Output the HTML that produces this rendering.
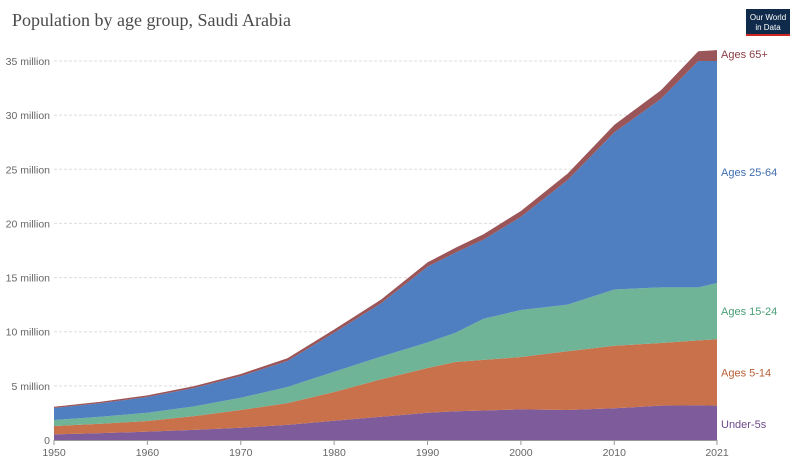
<!DOCTYPE html>
<html><head><meta charset="utf-8"><style>
body{margin:0;background:#fff;font-family:"Liberation Sans",sans-serif}
</style></head><body>
<svg width="800" height="466" xmlns="http://www.w3.org/2000/svg">
<rect width="800" height="466" fill="#fff"/>
<text x="12" y="26" font-family="Liberation Serif,serif" font-size="18" fill="#4a4a4a">Population by age group, Saudi Arabia</text>
<g>
<rect x="746" y="9" width="44" height="27" fill="#0f2a4a"/>
<rect x="746" y="34" width="44" height="2" fill="#ce261e"/>
<text x="768" y="20" font-size="8" fill="#fff" text-anchor="middle">Our World</text>
<text x="768" y="30" font-size="8" fill="#fff" text-anchor="middle">in Data</text>
</g>
<g id="grid"></g><g id="areas"></g><g id="axes"></g><g id="labels"></g>
</svg>
<script>
const years=[1950,1955,1960,1965,1970,1975,1980,1985,1990,1993,1996,2000,2005,2010,2015,2019,2021];
const under5=[.52,.63,.77,.93,1.13,1.4,1.78,2.15,2.52,2.65,2.72,2.83,2.77,2.93,3.17,3.2,3.17];
const ages5to14=[.77,.87,.98,1.27,1.64,2.0,2.65,3.45,4.13,4.55,4.68,4.83,5.43,5.77,5.79,6.0,6.13];
const ages15to24=[.56,.65,.77,.9,1.13,1.5,1.87,2.1,2.35,2.7,3.8,4.34,4.3,5.2,5.14,4.9,5.2];
const ages25to64=[1.1,1.25,1.45,1.7,2.0,2.4,3.6,4.9,7.0,7.4,7.3,8.6,11.5,14.5,17.4,20.9,20.5];
const ages65=[.12,.13,.15,.17,.2,.25,.3,.35,.4,.45,.5,.55,.6,.7,.8,.9,1.0];
const yTicks=[0,5,10,15,20,25,30,35];
const xTicks=[1950,1960,1970,1980,1990,2000,2010,2021];
const seriesNames=["Under-5s","Ages 5-14","Ages 15-24","Ages 25-64","Ages 65+"];
const NS="http://www.w3.org/2000/svg";
const X=y=>54+(y-1950)*(717-54)/71;
const Y=v=>440-v*(440-61)/35;
function mk(t,a,p){const e=document.createElementNS(NS,t);for(const k in a)e.setAttribute(k,a[k]);document.getElementById(p).appendChild(e);return e;}
yTicks.forEach(t=>{
  if(t>0){const l=mk('line',{x1:54,x2:717,y1:Y(t),y2:Y(t),stroke:'#ddd','stroke-dasharray':'3,2'},'grid');
  
  }
  const tx=mk('text',{x:50,y:Y(t)+4,'font-size':10.5,fill:'#666','text-anchor':'end'},'axes');
  tx.textContent=t===0?'0':t+' million';
  
  
});
const ax=mk('line',{x1:54,x2:717,y1:440.5,y2:440.5,stroke:'#999'},'axes');


xTicks.forEach(t=>{
  const tk=mk('line',{x1:X(t),x2:X(t),y1:440,y2:445,stroke:'#999'},'axes');
  
  
  const tx=mk('text',{x:X(t),y:456,'font-size':10.5,fill:'#666','text-anchor':'middle'},'axes');
  tx.textContent=t;
  
  
});
const series=[under5,ages5to14,ages15to24,ages25to64,ages65];
const colors=['#7e5b9a','#c8714b','#6fb497','#4f7fc1','#9a5559'];
const lcolors=['#6d4a8c','#b85f36','#4a9c78','#3f6db0','#8a3e45'];
const names=['area-under-5s','area-ages-5-14','area-ages-15-24','area-ages-25-64','area-ages-65-plus'];
let base=years.map(()=>0);
series.forEach((s,i)=>{
  const top=base.map((b,j)=>b+s[j]);
  let d='M'+years.map((y,j)=>X(y)+','+Y(top[j])).join('L');
  for(let j=years.length-1;j>=0;j--)d+='L'+X(years[j])+','+Y(base[j]);
  const p=mk('path',{d:d+'Z',fill:colors[i]},'areas');
  
  
  const n=years.length-1;
  let ly=(Y(top[n])+Y(base[n]))/2+4;
  if(i===4)ly=Y(top[n])+8;
  if(i===0)ly=428;
  const lt=mk('text',{x:721,y:ly,'font-size':11,fill:lcolors[i]},'labels');
  lt.textContent=seriesNames[i];
  
  
  base=top;
});
</script>
</body></html>
